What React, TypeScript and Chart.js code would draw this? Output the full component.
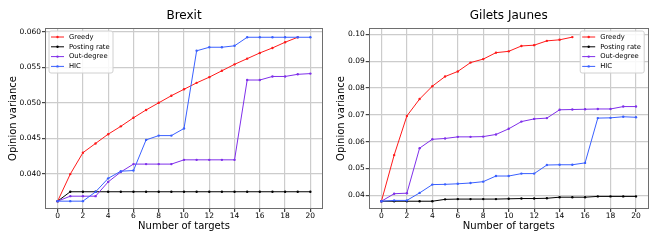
import React, { useEffect, useRef } from "react";
import { Chart, registerables } from "chart.js";

Chart.register(...registerables);

const FONT = "'DejaVu Sans', sans-serif";

// x categories: number of targets
const targets = [0, 1, 2, 3, 4, 5, 6, 7, 8, 9, 10, 11, 12, 13, 14, 15, 16, 17, 18, 19, 20];
const xTicks = [0, 2, 4, 6, 8, 10, 12, 14, 16, 18, 20];
const xTickLabels = ["0", "2", "4", "6", "8", "10", "12", "14", "16", "18", "20"];

const seriesLabels = ["Greedy", "Posting rate", "Out-degree", "HIC"];
const seriesColors = ["#ff1a1a", "#000000", "#7f2fea", "#3a60ff"];

// Brexit
const brexitGreedy = [0.0362, 0.0400, 0.0430, 0.0443, 0.0456, 0.0467, 0.0479, 0.0490, 0.0500, 0.0510, 0.0519, 0.0528, 0.0536, 0.0545, 0.0554, 0.0562, 0.0570, 0.0577, 0.0585, 0.0592];
const brexitPosting = [0.0362, 0.03752, 0.03752, 0.03752, 0.03752, 0.03752, 0.03752, 0.03752, 0.03752, 0.03752, 0.03752, 0.03752, 0.03752, 0.03752, 0.03752, 0.03752, 0.03752, 0.03752, 0.03752, 0.03752, 0.03752];
const brexitOutDegree = [0.0362, 0.0369, 0.0369, 0.0369, 0.0389, 0.0403, 0.0414, 0.0414, 0.0414, 0.0414, 0.0420, 0.0420, 0.0420, 0.0420, 0.0420, 0.0532, 0.0532, 0.0537, 0.0537, 0.0540, 0.0541];
const brexitHIC = [0.0362, 0.0362, 0.0362, 0.0375, 0.0394, 0.0404, 0.0405, 0.0448, 0.0454, 0.0454, 0.0464, 0.0573, 0.0578, 0.0578, 0.0580, 0.0592, 0.0592, 0.0592, 0.0592, 0.0592, 0.0592];
const brexitYTicks = [0.040, 0.045, 0.050, 0.055, 0.060];
const brexitYTickLabels = ["0.040", "0.045", "0.050", "0.055", "0.060"];

// Gilets Jaunes
const gjGreedy = [0.0378, 0.0550, 0.0696, 0.0759, 0.0807, 0.0843, 0.0862, 0.0895, 0.0908, 0.0932, 0.0937, 0.0957, 0.0960, 0.0976, 0.0980, 0.0990];
const gjPosting = [0.0378, 0.0378, 0.0378, 0.0378, 0.0378, 0.0385, 0.0386, 0.0386, 0.0386, 0.0386, 0.0387, 0.0388, 0.0388, 0.0389, 0.0393, 0.0393, 0.0393, 0.0396, 0.0396, 0.0396, 0.0396];
const gjOutDegree = [0.0378, 0.0406, 0.0408, 0.0576, 0.0609, 0.0612, 0.0618, 0.0618, 0.0619, 0.0627, 0.0648, 0.0675, 0.0685, 0.0688, 0.0719, 0.0720, 0.0721, 0.0722, 0.0722, 0.0731, 0.0731];
const gjHIC = [0.0378, 0.0381, 0.0381, 0.0409, 0.0440, 0.0441, 0.0443, 0.0446, 0.0451, 0.0472, 0.0472, 0.0481, 0.0481, 0.0513, 0.0514, 0.0514, 0.0521, 0.0688, 0.0689, 0.0693, 0.0691];
const gjYTicks = [0.04, 0.05, 0.06, 0.07, 0.08, 0.09, 0.10];
const gjYTickLabels = ["0.04", "0.05", "0.06", "0.07", "0.08", "0.09", "0.10"];

type PanelCfg = {
  title: string;
  series: number[][];
  yMin: number;
  yMax: number;
  yTicks: number[];
  yTickLabels: string[];
  yAxisWidth: number;
  padRight: number;
  legendCorner: "left" | "right";
};

const framePlugin = {
  id: "frameAndLegend",
  afterDraw(chart: any, _args: any, opts: any) {
    const { ctx, chartArea: a } = chart;
    ctx.save();
    // axes frame
    const l = Math.round(a.left) + 0.5;
    const t = Math.round(a.top) + 0.5;
    const r = Math.round(a.right) - 0.5;
    const b = Math.round(a.bottom) - 0.5;
    ctx.strokeStyle = "#6e6e6e";
    ctx.lineWidth = 1;
    ctx.strokeRect(l, t, r - l, b - t);

    // legend box
    const w = 64;
    const h = 42;
    const x0 = opts.corner === "right" ? a.right - 4.5 - w : a.left + 4;
    const y0 = a.top + 3;
    ctx.beginPath();
    const rad = 2;
    ctx.moveTo(x0 + rad, y0);
    ctx.lineTo(x0 + w - rad, y0);
    ctx.quadraticCurveTo(x0 + w, y0, x0 + w, y0 + rad);
    ctx.lineTo(x0 + w, y0 + h - rad);
    ctx.quadraticCurveTo(x0 + w, y0 + h, x0 + w - rad, y0 + h);
    ctx.lineTo(x0 + rad, y0 + h);
    ctx.quadraticCurveTo(x0, y0 + h, x0, y0 + h - rad);
    ctx.lineTo(x0, y0 + rad);
    ctx.quadraticCurveTo(x0, y0, x0 + rad, y0);
    ctx.closePath();
    ctx.fillStyle = "rgba(255,255,255,0.85)";
    ctx.fill();
    ctx.strokeStyle = "#d0d0d0";
    ctx.stroke();

    ctx.font = `6.8px ${FONT}`;
    ctx.textBaseline = "middle";
    ctx.textAlign = "left";
    chart.data.datasets.forEach((ds: any, i: number) => {
      const cy = y0 + 6 + i * 9.8;
      ctx.strokeStyle = ds.borderColor;
      ctx.lineWidth = 1;
      ctx.beginPath();
      ctx.moveTo(x0 + 2, cy);
      ctx.lineTo(x0 + 15, cy);
      ctx.stroke();
      ctx.fillStyle = ds.borderColor;
      ctx.beginPath();
      ctx.arc(x0 + 8.5, cy, 1.2, 0, Math.PI * 2);
      ctx.fill();
      ctx.fillStyle = "#000";
      ctx.fillText(ds.label, x0 + 20, cy);
    });
    ctx.restore();
  },
};

function buildChart(canvas: HTMLCanvasElement, cfg: PanelCfg) {
  const n = cfg.series.length;
  return new Chart(canvas, {
    type: "line",
    data: {
      datasets: cfg.series.map((vals, i) => ({
        label: seriesLabels[i],
        data: vals.map((v, j) => ({ x: targets[j], y: v })),
        borderColor: seriesColors[i],
        backgroundColor: seriesColors[i],
        pointBackgroundColor: seriesColors[i],
        borderWidth: 1,
        pointRadius: 1.2,
        pointHoverRadius: 1.2,
        pointBorderWidth: 0,
        fill: false,
        tension: 0,
        order: n - i,
      })),
    },
    options: {
      responsive: false,
      animation: false,
      devicePixelRatio: 1,
      events: [],
      layout: { padding: { left: 0, right: cfg.padRight, top: 0, bottom: 0 } },
      plugins: {
        legend: { display: false },
        tooltip: { enabled: false },
        title: {
          display: true,
          text: cfg.title,
          fullSize: false,
          color: "#000",
          font: { family: FONT, size: 12, weight: "normal" },
          padding: { top: 8.8, bottom: 4.8 },
        },
        frameAndLegend: { corner: cfg.legendCorner },
      } as any,
      scales: {
        x: {
          type: "linear",
          min: -1,
          max: 21,
          afterBuildTicks: (s: any) => {
            s.ticks = xTicks.map((v) => ({ value: v }));
          },
          afterFit: (s: any) => {
            s.height = 31;
          },
          grid: { color: "#cccccc", lineWidth: 1.2, tickLength: 3, tickColor: "#444", drawTicks: true },
          border: { display: false },
          ticks: {
            color: "#000",
            font: { family: FONT, size: 7.5 },
            padding: 0,
            maxRotation: 0,
            autoSkip: false,
            callback: (_v: any, i: number) => xTickLabels[i],
          },
          title: {
            display: true,
            text: "Number of targets",
            color: "#000",
            font: { family: FONT, size: 10 },
            padding: { top: 0, bottom: 8 },
          },
        },
        y: {
          type: "linear",
          min: cfg.yMin,
          max: cfg.yMax,
          afterBuildTicks: (s: any) => {
            s.ticks = cfg.yTicks.map((v) => ({ value: v }));
          },
          afterFit: (s: any) => {
            s.width = cfg.yAxisWidth;
          },
          grid: { color: "#cccccc", lineWidth: 1.2, tickLength: 3, tickColor: "#444", drawTicks: true },
          border: { display: false },
          ticks: {
            color: "#000",
            font: { family: FONT, size: 7.5 },
            padding: 1,
            autoSkip: false,
            callback: (_v: any, i: number) => cfg.yTickLabels[i],
          },
          title: {
            display: true,
            text: "Opinion variance",
            color: "#000",
            font: { family: FONT, size: 10 },
            padding: { top: 7.3, bottom: 0 },
          },
        },
      },
    } as any,
    plugins: [framePlugin as any],
  });
}

const brexitCfg: PanelCfg = {
  title: "Brexit",
  series: [brexitGreedy, brexitPosting, brexitOutDegree, brexitHIC],
  yMin: 0.0351,
  yMax: 0.0605,
  yTicks: brexitYTicks,
  yTickLabels: brexitYTickLabels,
  yAxisWidth: 45,
  padRight: 5,
  legendCorner: "left",
};

const gjCfg: PanelCfg = {
  title: "Gilets Jaunes",
  series: [gjGreedy, gjPosting, gjOutDegree, gjHIC],
  yMin: 0.0349,
  yMax: 0.1024,
  yTicks: gjYTicks,
  yTickLabels: gjYTickLabels,
  yAxisWidth: 40.7,
  padRight: 9.3,
  legendCorner: "right",
};

function Panel({ cfg, left, width }: { cfg: PanelCfg; left: number; width: number }) {
  const ref = useRef<HTMLCanvasElement>(null);
  useEffect(() => {
    if (!ref.current) return;
    const chart = buildChart(ref.current, cfg);
    return () => chart.destroy();
  }, [cfg]);
  return (
    <canvas
      ref={ref}
      width={width}
      height={240}
      style={{ position: "absolute", left, top: 0, width, height: 240, display: "block" }}
    />
  );
}

export default function App() {
  return (
    <div
      style={{
        position: "fixed",
        left: 0,
        top: 0,
        width: 658,
        height: 240,
        background: "#fff",
        overflow: "hidden",
      }}
    >
      <Panel cfg={brexitCfg} left={0} width={328} />
      <Panel cfg={gjCfg} left={328} width={330} />
    </div>
  );
}
